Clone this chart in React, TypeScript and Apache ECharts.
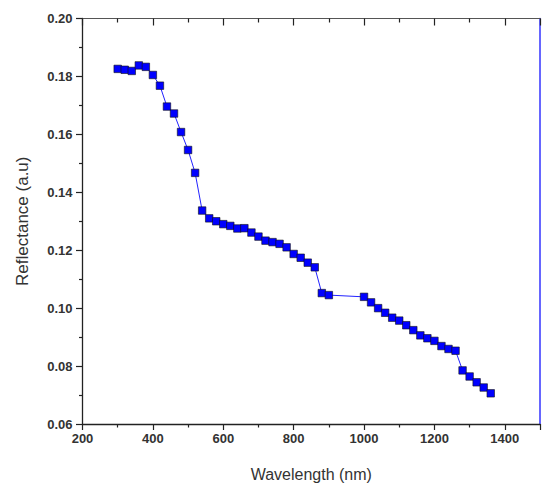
import React, { useEffect, useRef } from "react";
import * as echarts from "echarts";

const wavelengths = [300, 320, 340, 360, 380, 400, 420, 440, 460, 480, 500, 520, 540, 560, 580, 600, 620, 640, 660, 680, 700, 720, 740, 760, 780, 800, 820, 840, 860, 880, 900, 1000, 1020, 1040, 1060, 1080, 1100, 1120, 1140, 1160, 1180, 1200, 1220, 1240, 1260, 1280, 1300, 1320, 1340, 1360];
const reflectance = [0.1826, 0.1823, 0.1819, 0.1838, 0.1833, 0.1805, 0.1768, 0.1696, 0.1672, 0.1608, 0.1546, 0.1467, 0.1337, 0.131, 0.13, 0.129, 0.1284, 0.1275, 0.1276, 0.1261, 0.1247, 0.1233, 0.1228, 0.1222, 0.121, 0.1187, 0.1174, 0.1157, 0.1141, 0.1052, 0.1045, 0.1039, 0.102, 0.1, 0.0984, 0.0967, 0.0957, 0.0941, 0.0924, 0.0906, 0.0896, 0.0887, 0.0869, 0.0859, 0.0853, 0.0785, 0.0764, 0.0744, 0.0726, 0.0706];

const xTitle = "Wavelength (nm)";
const yTitle = "Reflectance (a.u)";

export default function App() {
  const ref = useRef<HTMLDivElement>(null);
  useEffect(() => {
    if (!ref.current) return;
    const chart = echarts.init(ref.current, undefined, { renderer: "svg" });
    const font = "Liberation Sans, Arial, sans-serif";
    const axisLine = { show: true, lineStyle: { color: "#222", width: 1.3 } };
    chart.setOption({
      animation: false,
      grid: { left: 82.5, right: 1.5, top: 18.5, bottom: 59.5, containLabel: false },
      xAxis: [
        {
          type: "value",
          min: 200,
          max: 1500,
          interval: 200,
          position: "bottom",
          name: xTitle,
          nameLocation: "middle",
          nameGap: 42,
          nameTextStyle: { fontFamily: font, fontSize: 16, color: "#333" },
          axisLine,
          axisTick: { show: true, inside: false, length: 6, lineStyle: { color: "#222", width: 1.2 } },
          minorTick: { show: true, splitNumber: 2, length: 3.5, lineStyle: { color: "#222", width: 1.2 } },
          axisLabel: {
            margin: 8,
            fontFamily: font,
            fontSize: 13,
            fontWeight: "bold",
            color: "#333",
            formatter: (v: number) => (v > 1400 ? "" : String(v)),
          },
          splitLine: { show: false },
        },
        {
          type: "value",
          min: 200,
          max: 1500,
          interval: 200,
          position: "top",
          axisLine: { show: true, lineStyle: { color: "#555", width: 1.2 } },
          axisTick: { show: true, inside: true, length: 7, lineStyle: { color: "#222", width: 1.2 } },
          minorTick: { show: true, splitNumber: 2, length: 4, lineStyle: { color: "#222", width: 1.2 } },
          axisLabel: { show: false },
          splitLine: { show: false },
        },
      ],
      yAxis: [
        {
          type: "value",
          min: 0.06,
          max: 0.2,
          interval: 0.02,
          position: "left",
          name: yTitle,
          nameLocation: "middle",
          nameGap: 52,
          nameTextStyle: { fontFamily: font, fontSize: 17, color: "#333" },
          axisLine,
          axisTick: { show: true, inside: false, length: 6.5, lineStyle: { color: "#222", width: 1.2 } },
          minorTick: { show: true, splitNumber: 2, length: 3.5, lineStyle: { color: "#222", width: 1.2 } },
          axisLabel: {
            margin: 10,
            fontFamily: font,
            fontSize: 13,
            fontWeight: "bold",
            color: "#333",
            formatter: (v: number) => v.toFixed(2),
          },
          splitLine: { show: false },
        },
        {
          type: "value",
          min: 0.06,
          max: 0.2,
          interval: 0.02,
          position: "right",
          axisLine: { show: true, lineStyle: { color: "#3333ff", width: 1.5 } },
          axisTick: { show: false },
          axisLabel: { show: false },
          splitLine: { show: false },
        },
      ],
      series: [
        {
          type: "line",
          xAxisIndex: 0,
          yAxisIndex: 0,
          data: wavelengths.map((w, i) => [w, reflectance[i]]),
          symbol: "rect",
          symbolSize: 7.5,
          showSymbol: true,
          lineStyle: { color: "#2222ff", width: 1 },
          itemStyle: { color: "#0000ff", borderColor: "#111", borderWidth: 0.6 },
        },
      ],
    });
    return () => chart.dispose();
  }, []);
  return <div ref={ref} style={{ position: "absolute", left: 0, top: 0, width: 543, height: 487 }} />;
}
